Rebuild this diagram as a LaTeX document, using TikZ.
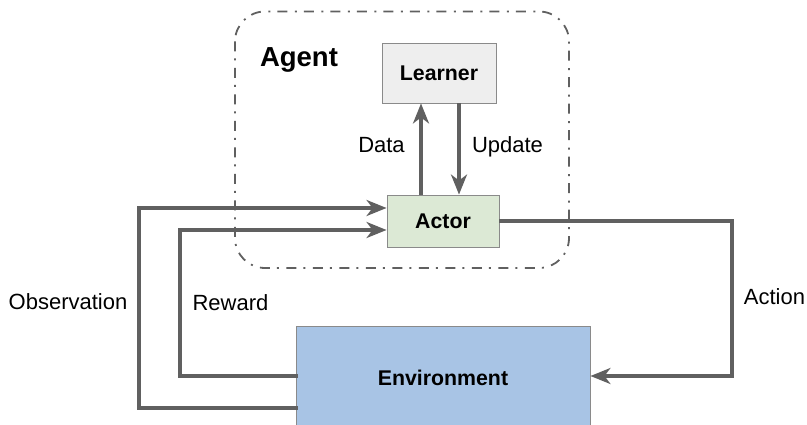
\documentclass[tikz,border=0pt]{standalone}
\usepackage{fontspec}
\setmainfont{Liberation Sans}
\usetikzlibrary{arrows.meta}
\definecolor{linegray}{HTML}{606060}
\definecolor{boxgray}{HTML}{8A8A8A}
\definecolor{learnerfill}{HTML}{EEEEEE}
\definecolor{actorfill}{HTML}{DCE9D5}
\definecolor{envfill}{HTML}{A8C4E5}
\tikzset{
  box/.style={draw=boxgray, line width=0.9pt, inner sep=0pt, font=\fontsize{21.3}{25}\selectfont\bfseries},
  arr/.style={draw=linegray, line width=3.2pt, -{Stealth[length=20pt, width=16pt, inset=6pt]}},
  lbl/.style={anchor=base, inner sep=0pt, font=\fontsize{22}{26}\selectfont},
  agentbox/.style={draw=linegray, line width=1.8pt, rounded corners=30pt,
    dash pattern=on 10pt off 7pt on 2pt off 7.5pt}
}
\begin{document}
\begin{tikzpicture}[x=1pt, y=-1pt]
\useasboundingbox (0,0) rectangle (807,425);
\clip (0,0) rectangle (807,425);
% agent container
\draw[agentbox] (235,11.5) rectangle (569,268);
\node[lbl, font=\fontsize{27.5}{32}\selectfont\bfseries] (agent) at (299,67) {Agent};
% boxes
\node[box, fill=learnerfill, minimum width=114pt, minimum height=60pt] (learner) at (439,73) {Learner};
\node[box, fill=actorfill, minimum width=112pt, minimum height=52pt] (actor) at (443,221) {Actor};
\node[box, fill=envfill, minimum width=294pt, minimum height=104pt] (env) at (443,378) {Environment};
% coordinates
\coordinate (o1) at (139,408);
\coordinate (o2) at (139,208);
\coordinate (r1) at (180,376);
\coordinate (r2) at (180,230);
\coordinate (a1) at (732,221);
\coordinate (a2) at (732,376);
% agent internal arrows
\draw[arr] ([xshift=-22pt]actor.north) -- ([xshift=-22pt]actor.north |- learner.south);
\draw[arr] ([xshift=16pt]actor.north |- learner.south) -- ([xshift=16pt]actor.north);
% observation
\draw[arr] ([xshift=2pt]env.west |- o1) -- (o1) -- (o2) -- (actor.west |- o2);
% reward
\draw[arr] ([xshift=2pt]env.west |- r1) -- (r1) -- (r2) -- (actor.west |- r2);
% action
\draw[arr] (actor.east |- a1) -- (a1) -- (a2) -- (env.east |- a2);
% labels
\node[lbl] (data) at (381.5,153) {Data};
\node[lbl] (update) at (507.5,153) {Update};
\node[lbl] (obs) at (68,309) {Observation};
\node[lbl] (reward) at (230.5,311) {Reward};
\node[lbl] (action) at (774.5,305) {Action};
\end{tikzpicture}
\end{document}
